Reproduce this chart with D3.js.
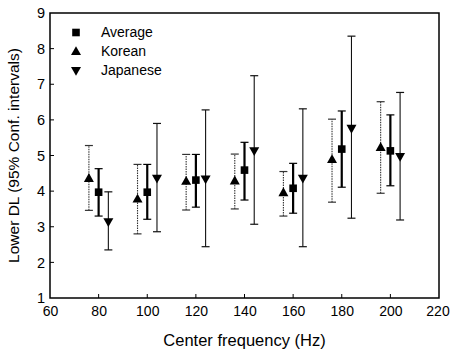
<!DOCTYPE html>
<html>
<head>
<meta charset="utf-8">
<script src="https://cdn.jsdelivr.net/npm/d3@7"></script>
<style>
  body { margin: 0; background: #fff; }
  svg { display: block; font-family: "Liberation Sans", Arial, sans-serif; }
</style>
</head>
<body>
<div id="chart"></div>
<script>
// Lower DL by center frequency, 95% confidence intervals
const freqs = [80, 100, 120, 140, 160, 180, 200];

const avgMean = [3.97, 3.97, 4.31, 4.59, 4.08, 5.18, 5.13];
const avgLo   = [3.30, 3.21, 3.55, 3.75, 3.38, 4.11, 4.15];
const avgHi   = [4.63, 4.75, 5.03, 5.37, 4.78, 6.25, 6.14];

const korMean = [4.36, 3.78, 4.28, 4.29, 3.96, 4.89, 5.23];
const korLo   = [3.46, 2.80, 3.47, 3.50, 3.30, 3.69, 3.94];
const korHi   = [5.28, 4.75, 5.03, 5.04, 4.55, 6.02, 6.51];

const japMean = [3.14, 4.36, 4.34, 5.13, 4.36, 5.76, 4.97];
const japLo   = [2.35, 2.86, 2.44, 3.07, 2.44, 3.24, 3.19];
const japHi   = [3.98, 5.90, 6.28, 7.24, 6.31, 8.35, 6.77];

const xTicks = [60, 80, 100, 120, 140, 160, 180, 200, 220];
const yTicks = [1, 2, 3, 4, 5, 6, 7, 8, 9];

const width = 450, height = 352;
const margin = { top: 13, right: 11, bottom: 54, left: 50 };

const svg = d3.select('#chart').append('svg')
  .attr('width', width)
  .attr('height', height);

const x = d3.scaleLinear().domain([60, 220]).range([margin.left, width - margin.right]);
const y = d3.scaleLinear().domain([1, 9]).range([height - margin.bottom, margin.top]);

// series: offset in Hz from the center frequency
const series = [
  { name: 'Average',  shape: 'square', dx: 0,  mean: avgMean, lo: avgLo, hi: avgHi, sw: 2.2, dash: null, color: '#000' },
  { name: 'Korean',   shape: 'up',     dx: -4, mean: korMean, lo: korLo, hi: korHi, sw: 1.1, dash: '1.5,1', color: '#333' },
  { name: 'Japanese', shape: 'down',   dx: 4,  mean: japMean, lo: japLo, hi: japHi, sw: 1.1, dash: null, color: '#111' },
];

function markerPath(shape) {
  if (shape === 'square') return 'M-3.8,-3.8H3.8V3.8H-3.8Z';
  if (shape === 'up') return 'M0,-5.2L5,3.6H-5Z';
  return 'M0,5.2L5,-3.6H-5Z';
}

const font = 'Liberation Sans, Arial, sans-serif';

// axes frame
const g = svg.append('g');
g.append('rect')
  .attr('x', x(60)).attr('y', y(9))
  .attr('width', x(220) - x(60)).attr('height', y(1) - y(9))
  .attr('fill', 'none').attr('stroke', '#000').attr('stroke-width', 1.5);

const xAxis = d3.axisBottom(x).tickValues(xTicks).tickSize(0).tickPadding(8);
g.append('g')
  .attr('transform', `translate(0,${y(1)})`)
  .call(xAxis)
  .call(s => s.select('.domain').remove())
  .call(s => s.selectAll('text').attr('font-size', 14).attr('fill', '#000').attr('font-family', font))
  .call(s => s.selectAll('.tick').filter(d => d === 220).select('text').attr('dx', -1.5));

const yAxis = d3.axisLeft(y).tickValues(yTicks).tickSize(0).tickPadding(5);
g.append('g')
  .attr('transform', `translate(${x(60)},0)`)
  .call(yAxis)
  .call(s => s.select('.domain').remove())
  .call(s => s.selectAll('text').attr('font-size', 14.5).attr('fill', '#000').attr('font-family', font));

// inward tick marks
g.selectAll('.xtick').data(xTicks.slice(1, -1)).enter().append('line')
  .attr('x1', d => x(d)).attr('x2', d => x(d))
  .attr('y1', y(1)).attr('y2', y(1) - 4)
  .attr('stroke', '#000').attr('stroke-width', 1);
g.selectAll('.ytick').data(yTicks.slice(1, -1)).enter().append('line')
  .attr('x1', x(60)).attr('x2', x(60) + 4)
  .attr('y1', d => y(d)).attr('y2', d => y(d))
  .attr('stroke', '#000').attr('stroke-width', 1);

// error bars and markers
series.forEach(s => {
  const sg = svg.append('g');
  const rows = freqs.map((f, i) => ({ f: f + s.dx, m: s.mean[i], lo: s.lo[i], hi: s.hi[i] }));
  sg.selectAll('.bar').data(rows).enter().append('line')
    .attr('x1', d => x(d.f)).attr('x2', d => x(d.f))
    .attr('y1', d => y(d.lo)).attr('y2', d => y(d.hi))
    .attr('stroke', s.color).attr('stroke-width', s.sw)
    .attr('stroke-dasharray', s.dash);
  ['lo', 'hi'].forEach(k => {
    sg.selectAll('.cap-' + k).data(rows).enter().append('line')
      .attr('x1', d => x(d.f) - 4).attr('x2', d => x(d.f) + 4)
      .attr('y1', d => y(d[k])).attr('y2', d => y(d[k]))
      .attr('stroke', s.color).attr('stroke-width', 1.2);
  });
  sg.selectAll('.mk').data(rows).enter().append('path')
    .attr('d', markerPath(s.shape))
    .attr('transform', d => `translate(${x(d.f)},${y(d.m)})`)
    .attr('fill', '#000');
});

// legend
const legend = svg.append('g');
series.forEach((s, i) => {
  const ly = 32.5 + i * 19;
  legend.append('path')
    .attr('d', markerPath(s.shape))
    .attr('transform', `translate(76,${ly})`)
    .attr('fill', '#000');
  legend.append('text')
    .attr('x', 101).attr('y', ly)
    .attr('dy', '0.35em')
    .attr('font-size', 14)
    .text(s.name);
});

// axis titles
svg.append('text')
  .attr('x', (x(60) + x(220)) / 2)
  .attr('y', 346)
  .attr('text-anchor', 'middle')
  .attr('font-size', 16.5)
  .text('Center frequency (Hz)');

svg.append('text')
  .attr('transform', `translate(19,${(y(1) + y(9)) / 2}) rotate(-90)`)
  .attr('text-anchor', 'middle')
  .attr('font-size', 15.5)
  .text('Lower DL (95% Conf. intervals)');
</script>
</body>
</html>
